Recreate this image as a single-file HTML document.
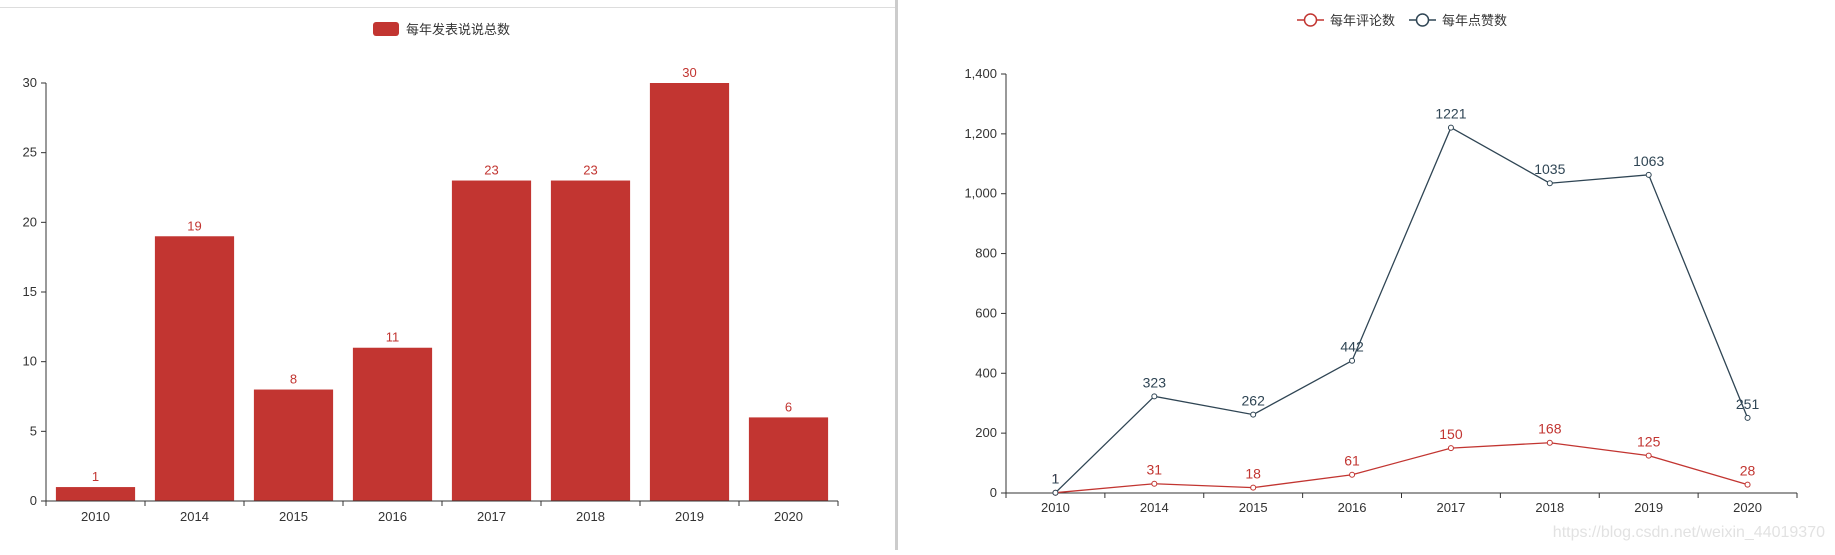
<!DOCTYPE html>
<html><head><meta charset="utf-8"><style>
body{margin:0;width:1835px;height:550px;background:#fff;overflow:hidden;font-family:"Liberation Sans","Noto Sans CJK SC",sans-serif}
svg text{font-family:"Liberation Sans","Noto Sans CJK SC",sans-serif}
</style></head><body>
<svg id="s" width="1835" height="550">
<line x1="0" y1="7.5" x2="895" y2="7.5" stroke="#ddd"/>
<rect x="895" y="0" width="3" height="550" fill="#ccc"/>
<g id="bar"></g>
<g id="line"></g>
<text x="1825" y="537" text-anchor="end" font-size="16" fill="#e2e2e2">https://blog.csdn.net/weixin_44019370</text>
</svg>
<script>
const categories=["2010","2014","2015","2016","2017","2018","2019","2020"];
const postCounts=[1,19,8,11,23,23,30,6];
const barTicks=[0,5,10,15,20,25,30];
const commentCounts=[1,31,18,61,150,168,125,28];
const likeCounts=[1,323,262,442,1221,1035,1063,251];
const lineTicks=[0,200,400,600,800,1000,1200,1400];
const NS="http://www.w3.org/2000/svg";
function mk(p,t,a){const e=document.createElementNS(NS,t);for(const k in a)e.setAttribute(k,a[k]);p.appendChild(e);return e;}
function txt(p,x,y,s,o){const e=mk(p,'text',Object.assign({x:x,y:y,'font-size':13,fill:'#333'},o||{}));e.textContent=s;return e;}
// bar chart
const B=document.getElementById('bar');
const bx0=46,bx1=838,by0=501,by1=83,bmax=30;
const bband=(bx1-bx0)/categories.length;
const bxs=i=>bx0+bband*(i+0.5);
const bys=v=>by0-(by0-by1)*v/bmax;
barTicks.forEach(t=>{
 const l=mk(B,'line',{x1:bx0-5,x2:bx0,y1:bys(t),y2:bys(t),stroke:'#333'});
 
 
 const tt=txt(B,bx0-9,bys(t)+4,String(t),{'text-anchor':'end'});
 
 
});
categories.forEach((c,i)=>{
 const v=postCounts[i],w=bband*0.8;
 const r=mk(B,'rect',{x:bxs(i)-w/2,y:bys(v),width:w,height:by0-bys(v),fill:'#c23531'});
 
 
 const vl=txt(B,bxs(i),bys(v)-6,String(v),{'text-anchor':'middle',fill:'#c23531'});
 
 
 const xl=txt(B,bxs(i),521,c,{'text-anchor':'middle'});
 
 
});
for(let i=0;i<=categories.length;i++){const l=mk(B,'line',{x1:bx0+bband*i,x2:bx0+bband*i,y1:by0,y2:by0+5,stroke:'#333'});
 
 }
const bya=mk(B,'line',{x1:bx0,x2:bx0,y1:by1,y2:by0,stroke:'#333'});


const bxa=mk(B,'line',{x1:bx0,x2:bx1,y1:by0,y2:by0,stroke:'#333'});


const lg=mk(B,'rect',{x:373,y:22,width:26,height:14,rx:3,fill:'#c23531'});


const lgt=txt(B,406,34,'每年发表说说总数',{});


// line chart
const L=document.getElementById('line');
const lx0=1006,lx1=1797,ly0=493,ly1=74,lmax=1400;
const lband=(lx1-lx0)/categories.length;
const lxs=i=>lx0+lband*(i+0.5);
const lys=v=>ly0-(ly0-ly1)*v/lmax;
lineTicks.forEach(t=>{
 const l=mk(L,'line',{x1:lx0-5,x2:lx0,y1:lys(t),y2:lys(t),stroke:'#333'});
 
 
 const tt=txt(L,lx0-9,lys(t)+4,t.toLocaleString('en-US'),{'text-anchor':'end'});
 
 
});
categories.forEach((c,i)=>{
 const xl=txt(L,lxs(i),512,c,{'text-anchor':'middle'});
 
 
});
for(let i=0;i<=categories.length;i++){const l=mk(L,'line',{x1:lx0+lband*i,x2:lx0+lband*i,y1:ly0,y2:ly0+5,stroke:'#333'});
 
 }
const lya=mk(L,'line',{x1:lx0,x2:lx0,y1:ly1,y2:ly0,stroke:'#333'});


const lxa=mk(L,'line',{x1:lx0,x2:lx1,y1:ly0,y2:ly0,stroke:'#333'});


function series(vals,color,name){
 const pl=mk(L,'polyline',{points:vals.map((v,i)=>lxs(i)+','+lys(v)).join(' '),fill:'none',stroke:color,'stroke-width':1.3});
 
 
 vals.forEach((v,i)=>{
  const c=mk(L,'circle',{cx:lxs(i),cy:lys(v),r:2.5,fill:'#fff',stroke:color});
  
  
  const t=txt(L,lxs(i),lys(v)-9,String(v),{'text-anchor':'middle',fill:color,'font-size':14});
  
  
 });
}
series(commentCounts,'#c23531','comments');
series(likeCounts,'#2f4554','likes');
function legend(x,color,label,name){
 const l=mk(L,'line',{x1:x,x2:x+27,y1:20,y2:20,stroke:color,'stroke-width':1.5});
 
 
 const c=mk(L,'circle',{cx:x+13.5,cy:20,r:6,fill:'#fff',stroke:color,'stroke-width':1.5});
 
 
 const t=txt(L,x+33,25,label,{});
 
 
}
legend(1297,'#c23531','每年评论数','comments');
legend(1409,'#2f4554','每年点赞数','likes');
</script>
</body></html>
